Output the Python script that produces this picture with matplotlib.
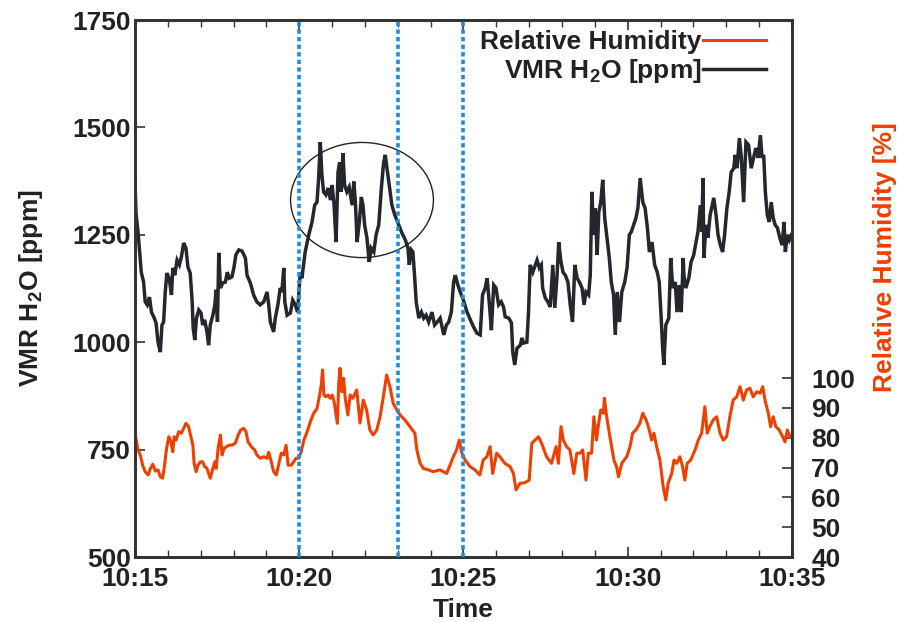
import numpy as np
import matplotlib
matplotlib.use("Agg")
import matplotlib.pyplot as plt
import matplotlib.dates as mdates
from matplotlib.patches import Ellipse

plt.rcParams['font.family'] = ['Liberation Sans', 'DejaVu Sans']
plt.rcParams['font.weight'] = 'bold'
plt.rcParams['mathtext.fontset'] = 'custom'
plt.rcParams['mathtext.rm'] = 'Liberation Sans:bold'
plt.rcParams['mathtext.bf'] = 'Liberation Sans:bold'
plt.rcParams['mathtext.default'] = 'rm'

# Water vapour mixing ratio (ppm), minutes after 10:15
vmr_min = [0.00, 0.03, 0.09, 0.13, 0.19, 0.26, 0.31, 0.37, 0.44, 0.50, 0.57, 0.64, 0.70, 0.77, 0.82,
           0.87, 0.92, 0.97, 1.04, 1.11, 1.15, 1.21, 1.28, 1.35, 1.41, 1.48, 1.55, 1.61, 1.68, 1.74,
           1.77, 1.82, 1.87, 1.94, 2.01, 2.06, 2.12, 2.19, 2.24, 2.29, 2.37, 2.43, 2.47, 2.51, 2.55,
           2.60, 2.67, 2.75, 2.81, 2.87, 2.95, 3.01, 3.07, 3.16, 3.26, 3.36, 3.41, 3.51, 3.61, 3.71,
           3.81, 3.92, 4.02, 4.07, 4.12, 4.22, 4.27, 4.35, 4.42, 4.47, 4.53, 4.56, 4.63, 4.73, 4.80,
           4.88, 4.95, 5.03, 5.08, 5.18, 5.29, 5.39, 5.47, 5.54, 5.59, 5.64, 5.69, 5.74, 5.81, 5.88,
           5.95, 6.00, 6.06, 6.12, 6.18, 6.23, 6.28, 6.33, 6.38, 6.45, 6.52, 6.61, 6.66, 6.71, 6.76,
           6.83, 6.89, 6.94, 6.99, 7.06, 7.13, 7.19, 7.27, 7.34, 7.42, 7.50, 7.57, 7.62, 7.67, 7.74,
           7.82, 7.91, 8.01, 8.11, 8.23, 8.31, 8.35, 8.41, 8.46, 8.51, 8.56, 8.64, 8.72, 8.79, 8.86,
           8.94, 9.04, 9.12, 9.20, 9.29, 9.40, 9.48, 9.55, 9.63, 9.70, 9.75, 9.83, 9.90, 9.98, 10.11,
           10.21, 10.31, 10.41, 10.51, 10.58, 10.66, 10.72, 10.79, 10.85, 10.92, 10.99, 11.07, 11.15,
           11.22, 11.27, 11.38, 11.46, 11.50, 11.56, 11.63, 11.73, 11.78, 11.83, 11.93, 11.98, 12.03,
           12.11, 12.19, 12.24, 12.31, 12.37, 12.41, 12.49, 12.57, 12.64, 12.72, 12.78, 12.85, 12.90,
           12.96, 13.03, 13.10, 13.18, 13.25, 13.32, 13.39, 13.46, 13.53, 13.61, 13.67, 13.73, 13.81,
           13.86, 13.91, 13.96, 14.01, 14.07, 14.12, 14.18, 14.24, 14.30, 14.37, 14.44, 14.50, 14.57,
           14.62, 14.68, 14.75, 14.82, 14.91, 14.98, 15.05, 15.11, 15.18, 15.25, 15.31, 15.38, 15.46,
           15.53, 15.60, 15.66, 15.74, 15.82, 15.90, 15.96, 16.02, 16.06, 16.10, 16.16, 16.25, 16.31,
           16.37, 16.45, 16.50, 16.57, 16.63, 16.69, 16.71, 16.77, 16.86, 16.93, 17.01, 17.08, 17.14,
           17.21, 17.26, 17.29, 17.32, 17.38, 17.44, 17.51, 17.62, 17.69, 17.75, 17.82, 17.89, 17.95,
           18.02, 18.09, 18.15, 18.23, 18.27, 18.33, 18.40, 18.46, 18.53, 18.60, 18.68, 18.76, 18.83,
           18.90, 18.97, 19.04, 19.09, 19.14, 19.19, 19.25, 19.31, 19.37, 19.43, 19.49, 19.56, 19.63,
           19.70, 19.76, 19.80, 19.86, 19.92, 19.98]
vmr_ppm = [1371, 1300, 1257, 1219, 1163, 1140, 1094, 1087, 1105, 1070, 1059, 1045, 1000, 977, 1040,
           1047, 1117, 1161, 1149, 1110, 1173, 1156, 1191, 1180, 1198, 1231, 1219, 1175, 1161, 1094,
           1033, 1005, 1056, 1075, 1068, 1040, 1052, 1024, 993, 1040, 1063, 1087, 1122, 1047, 1208,
           1126, 1138, 1140, 1163, 1149, 1152, 1173, 1203, 1215, 1212, 1196, 1156, 1138, 1110, 1094,
           1087, 1094, 1117, 1087, 1047, 1024, 1056, 1087, 1126, 1117, 1173, 1094, 1063, 1068, 1098,
           1087, 1070, 1163, 1149, 1210, 1250, 1280, 1319, 1326, 1382, 1466, 1389, 1350, 1343, 1359,
           1331, 1366, 1319, 1233, 1396, 1419, 1350, 1440, 1366, 1350, 1361, 1319, 1374, 1326, 1233,
           1280, 1338, 1319, 1273, 1243, 1187, 1219, 1210, 1250, 1273, 1359, 1419, 1436, 1405, 1366,
           1319, 1296, 1277, 1257, 1238, 1219, 1180, 1215, 1210, 1156, 1094, 1056, 1070, 1056, 1063,
           1047, 1070, 1040, 1047, 1056, 1017, 1040, 1047, 1070, 1140, 1156, 1133, 1117, 1102, 1070,
           1052, 1035, 1021, 1017, 1110, 1126, 1149, 1087, 1028, 1133, 1126, 1087, 1094,
           1082, 1059, 1056, 1045, 977, 947, 986, 993, 1010, 998, 1000, 1070, 1180,
           1163, 1180, 1191, 1173, 1180, 1126, 1103, 1094, 1082, 1180, 1080, 1156, 1233,
           1191, 1163, 1156, 1140, 1087, 1047, 1180, 1149, 1140, 1126, 1087, 1117, 1110,
           1156, 1350, 1250, 1312, 1203, 1303, 1326, 1378, 1289, 1243, 1196, 1140, 1110,
           1017, 1117, 1047, 1117, 1140, 1173, 1250, 1257, 1273, 1289, 1312, 1382, 1326,
           1312, 1266, 1210, 1233, 1180, 1163, 1140, 1056, 993, 947, 1040, 1056, 1196,
           1126, 1140, 1070, 1133, 1070, 1196, 1156, 1126, 1149, 1187, 1203, 1233, 1257,
           1319, 1257, 1382, 1196, 1273, 1243, 1296, 1336, 1296, 1250, 1226, 1210, 1250,
           1312, 1350, 1396, 1405, 1436, 1405, 1475, 1429, 1326, 1466, 1459, 1405, 1429,
           1452, 1429, 1482, 1429, 1436, 1350, 1296, 1280, 1326, 1289, 1273, 1266, 1243,
           1226, 1280, 1210, 1250, 1238, 1250]

# Relative humidity (%), minutes after 10:15
rh_min = [0.00, 0.09, 0.16, 0.23, 0.31, 0.40, 0.47, 0.54, 0.62, 0.70, 0.77, 0.84, 0.90, 0.96, 1.03,
          1.09, 1.15, 1.19, 1.25, 1.33, 1.41, 1.48, 1.55, 1.63, 1.70, 1.76, 1.80, 1.86, 1.92, 1.99,
          2.06, 2.12, 2.19, 2.24, 2.29, 2.37, 2.43, 2.47, 2.53, 2.60, 2.65, 2.71, 2.79, 2.87, 2.95,
          3.05, 3.14, 3.22, 3.31, 3.38, 3.44, 3.54, 3.64, 3.71, 3.81, 3.92, 4.02, 4.07, 4.15, 4.22,
          4.30, 4.37, 4.45, 4.53, 4.60, 4.66, 4.76, 4.83, 4.90, 4.98, 5.06, 5.14, 5.24, 5.34, 5.44,
          5.54, 5.61, 5.67, 5.71, 5.75, 5.81, 5.88, 5.94, 6.00, 6.06, 6.12, 6.16, 6.20, 6.24, 6.30,
          6.35, 6.40, 6.48, 6.55, 6.63, 6.75, 6.85, 6.95, 7.05, 7.15, 7.25, 7.36, 7.46, 7.56, 7.66,
          7.76, 7.86, 7.97, 8.07, 8.22, 8.37, 8.52, 8.58, 8.68, 8.78, 8.93, 9.08, 9.28, 9.49, 9.59,
          9.69, 9.79, 9.87, 9.95, 10.05, 10.20, 10.35, 10.50, 10.60, 10.71, 10.81, 10.89, 11.01,
          11.11, 11.26, 11.42, 11.52, 11.60, 11.72, 11.87, 12.00, 12.08, 12.18, 12.28, 12.38, 12.53,
          12.68, 12.82, 12.89, 12.97, 13.04, 13.14, 13.24, 13.36, 13.45, 13.55, 13.63, 13.73, 13.80,
          13.90, 13.97, 14.05, 14.10, 14.18, 14.26, 14.29, 14.36, 14.44, 14.51, 14.58, 14.66, 14.72,
          14.82, 14.89, 14.97, 15.07, 15.15, 15.25, 15.37, 15.46, 15.56, 15.63, 15.73, 15.80, 15.88,
          15.98, 16.08, 16.16, 16.23, 16.34, 16.41, 16.49, 16.59, 16.67, 16.74, 16.81, 16.92, 17.05,
          17.15, 17.25, 17.35, 17.42, 17.50, 17.60, 17.71, 17.81, 17.91, 18.01, 18.11, 18.21, 18.32,
          18.42, 18.52, 18.62, 18.72, 18.82, 18.93, 19.03, 19.11, 19.18, 19.28, 19.35, 19.43, 19.51,
          19.61, 19.72, 19.79, 19.86, 19.94]
rh_pct = [81.5, 75.9, 74.2, 70.8, 68.6, 67.5, 69.7, 71.1, 68.8, 69.2, 66.9, 66.4, 70.8, 76.4, 80.3,
          78.6, 75.3, 80.3, 79.2, 82.0, 81.5, 83.1, 84.8, 83.7, 80.3, 77.5, 71.4, 68.6, 70.8, 71.9,
          71.9, 70.3, 69.7, 68.0, 66.4, 69.7, 71.9, 69.7, 76.4, 80.9, 74.2, 76.4, 77.0, 77.5, 77.5,
          78.1, 80.9, 82.6, 83.1, 82.0, 78.6, 77.0, 75.9, 74.2, 73.1, 73.6, 73.1, 75.1, 71.9, 68.6,
          67.5, 70.8, 74.8, 74.2, 77.5, 70.8, 70.8, 71.9, 73.1, 73.1, 75.3, 79.2, 82.0, 85.4, 88.2,
          89.8, 93.7, 97.7, 102.7, 94.3, 93.7, 94.3, 93.2, 94.3, 92.1, 87.6, 84.8, 97.7, 103.3, 95.4,
          99.9, 93.2, 87.6, 94.3, 93.2, 96.0, 84.9, 92.6, 89.3, 82.6, 80.9, 82.6, 87.0, 93.7, 101.0,
          97.1, 91.5, 89.3, 87.6, 85.9, 83.7, 81.5, 75.9, 71.4, 69.7, 69.2, 68.6, 69.2, 68.0, 70.8,
          73.6, 75.9, 79.2, 74.8, 72.5, 70.3, 69.2, 67.5, 72.5, 73.6, 77.0, 68.0, 74.8,
          73.6, 71.4, 70.3, 68.0, 62.5, 64.7, 64.9, 65.8, 78.1, 79.2, 80.3, 78.1, 73.6,
          71.4, 77.0, 71.4, 83.7, 79.2, 77.0, 75.9, 68.0, 74.8, 74.8, 75.9, 65.8, 74.8,
          74.8, 87.0, 79.2, 83.7, 89.3, 88.2, 93.2, 87.0, 81.5, 77.0, 72.5, 70.3, 66.9,
          71.4, 72.5, 73.6, 77.0, 81.5, 82.6, 84.8, 88.2, 85.9, 83.7, 79.2, 81.5, 77.0,
          72.5, 63.6, 59.1, 64.7, 68.0, 72.5, 71.4, 73.6, 70.3, 65.8, 71.4, 72.5, 75.9,
          79.2, 81.5, 90.4, 81.5, 83.7, 85.9, 87.0, 81.5, 79.2, 80.3, 87.0, 92.6, 93.7,
          97.1, 92.6, 96.0, 96.6, 93.7, 95.4, 94.9, 97.1, 92.6, 88.2, 83.7, 87.0, 83.7,
          82.6, 80.3, 78.6, 82.6, 80.3]

# Marked instants (minutes after 10:15)
event_min = [5.0, 8.0, 10.0]

start = np.datetime64('2000-01-01T10:15:00')
end = np.datetime64('2000-01-01T10:35:00')


def to_time(minutes):
    return start + (np.asarray(minutes) * 60000).astype('timedelta64[ms]')


BLACK = '#24272b'
RED = '#ee4000'
BLUE = '#1b8ee0'
SPINE = '#333333'
FS = 19

fig = plt.figure(figsize=(8.99, 6.22), dpi=100)
ax = fig.add_axes([0.1502, 0.1045, 0.7307, 0.8633])
ax2 = ax.twinx()

lv, = ax.plot(to_time(vmr_min), vmr_ppm, color=BLACK, lw=2.5, solid_joinstyle='miter',
              label=r'VMR H$_2$O [ppm]')
lr, = ax2.plot(to_time(rh_min), rh_pct, color=RED, lw=2.2, label='Relative Humidity')

for m in event_min:
    ax2.axvline(to_time(m), color=BLUE, lw=2.6, ls=(0, (1.2, 0.9)), zorder=5)

# Highlighted region around the plume
centre = mdates.date2num(to_time(6.91))
ax.add_patch(Ellipse((centre, 1331), width=4.35 / 1440, height=268, fill=False,
                     edgecolor='#222222', lw=1.0, zorder=4))

ax.set_xlim(start, end)
ax.set_ylim(500, 1750)
ax.set_yticks([500, 750, 1000, 1250, 1500, 1750])
ax2.set_ylim(40, 220)
ax2.set_yticks([40, 50, 60, 70, 80, 90, 100])

ax.xaxis.set_major_locator(mdates.MinuteLocator(byminute=range(0, 60, 5)))
ax.xaxis.set_minor_locator(mdates.MinuteLocator())
ax.xaxis.set_major_formatter(mdates.DateFormatter('%H:%M'))

ax.tick_params(axis='x', which='major', direction='in', length=7, width=1.2, top=True,
               labelsize=FS, pad=7, colors=SPINE)
ax.tick_params(axis='x', which='minor', direction='in', length=5, width=1.0, top=True, colors=SPINE)
ax.tick_params(axis='y', which='major', direction='in', length=7, width=1.2, labelsize=FS,
               pad=3, colors=SPINE)
ax2.tick_params(axis='y', which='major', direction='in', length=7, width=1.2, labelsize=FS,
                pad=14, colors=SPINE)
for a in (ax, ax2):
    for s in a.spines.values():
        s.set_linewidth(2.0)
        s.set_color(SPINE)
for lab in ax.get_xticklabels() + ax.get_yticklabels() + ax2.get_yticklabels():
    lab.set_color('#222222')
    lab.set_fontweight('bold')

ax.set_xlabel('Time', fontsize=FS, fontweight='bold', color='#222222', labelpad=5)
ax.set_ylabel(r'VMR H$_2$O [ppm]', fontsize=FS, fontweight='bold', color='#222222', labelpad=20)
fig.text(885 / 899, 1 - 257 / 622, 'Relative Humidity [%]', rotation=90, fontsize=FS,
         fontweight='bold', color=RED, ha='center', va='center')

leg = ax2.legend([lr, lv], ['Relative Humidity', r'VMR H$_2$O [ppm]'], loc='upper right',
                 bbox_to_anchor=(0.985, 1.01), frameon=False, markerfirst=False, fontsize=FS,
                 handlelength=2.4, handletextpad=0.05, labelspacing=0.1, borderaxespad=0.2)
for t in leg.get_texts():
    t.set_fontweight('bold')
    t.set_color('#222222')

fig.savefig('out.png', dpi=100)
